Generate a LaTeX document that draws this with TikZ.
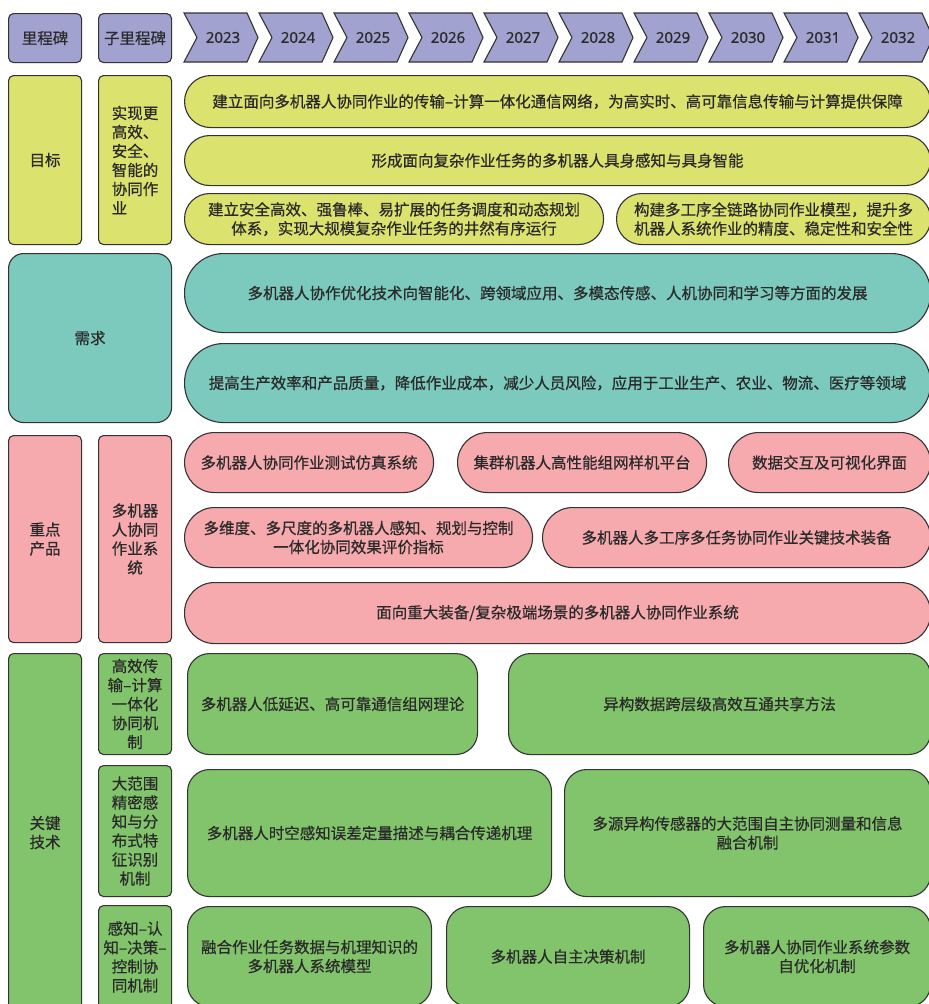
\documentclass[tikz,border=0pt]{standalone}
\usepackage{fontspec}
\newfontfamily\cjkfont[FakeBold=0.6]{Noto Sans CJK SC}
\newfontfamily\yearfont[FakeBold=1.2]{Open Sans}
\definecolor{linec}{HTML}{333333}
\definecolor{textc}{HTML}{2A2A2A}
\definecolor{purp}{HTML}{A2A2D0}
\definecolor{yel}{HTML}{DCE26E}
\definecolor{teal2}{HTML}{7CCABD}
\definecolor{pink2}{HTML}{F6AAAE}
\definecolor{grn}{HTML}{82C46C}
\tikzset{
  base/.style={draw=linec, line width=1.1pt, text=textc, inner sep=0pt, align=center,
    anchor=north west, font=\cjkfont\fontsize{15.5}{19}\selectfont},
  sq/.style={rounded corners=5pt},
  chev/.style={draw=linec, line width=1.1pt, fill=purp},
  yeartext/.style={text=textc, inner sep=0pt, font=\yearfont\fontsize{15}{17}\selectfont},
}
\newcommand{\rb}[7]{\node[base,#1,minimum width={(#5-#3)*1pt},minimum height={(#6-#4)*1pt}] (#2) at (#3,#4) {#7};}
\begin{document}
\begin{tikzpicture}[x=1pt,y=-1pt]
\useasboundingbox (0,0) rectangle (929,1004);
\clip (0,0) rectangle (929,1004);
% header
\rb{sq,fill=purp}{hm}{8}{13}{81}{62}{里程碑}
\rb{sq,fill=purp}{hs}{98}{13}{171}{62}{子里程碑}
\foreach \y [count=\i from 0] in {2023,2024,2025,2026,2027,2028,2029,2030,2031,2032}{
  \pgfmathsetmacro{\xo}{184+75*\i}
  \draw[chev] (\xo,13) -- (\xo+63,13) -- (\xo+74,37.5) -- (\xo+63,62) -- (\xo,62) -- (\xo+13,37.5) -- cycle;
  \node[yeartext] (y\y) at (\xo+39,37.5) {\y};
}
% goals
\rb{sq,fill=yel}{goal}{8}{75}{81}{244}{目标}
\rb{sq,fill=yel,align=left}{goalsub}{98}{75}{171}{244}{实现更\\高效、\\安全、\\智能的\\协同作\\业}
\rb{rounded corners=26pt,fill=yel}{g1}{184}{75}{930}{127}{建立面向多机器人协同作业的传输–计算一体化通信网络，为高实时、高可靠信息传输与计算提供保障}
\rb{rounded corners=25pt,fill=yel}{g2}{184}{135}{930}{185}{形成面向复杂作业任务的多机器人具身感知与具身智能}
\rb{rounded corners=25pt,fill=yel}{g3}{184}{193}{603}{244}{建立安全高效、强鲁棒、易扩展的任务调度和动态规划\\体系，实现大规模复杂作业任务的井然有序运行}
\rb{rounded corners=25pt,fill=yel}{g4}{616}{193}{930}{244}{构建多工序全链路协同作业模型，提升多\\机器人系统作业的精度、稳定性和安全性}
% demand
\rb{rounded corners=15pt,fill=teal2}{need}{8}{253}{171}{422}{需求}
\rb{rounded corners=39pt,fill=teal2}{n1}{184}{253}{930}{332}{多机器人协作优化技术向智能化、跨领域应用、多模态传感、人机协同和学习等方面的发展}
\rb{rounded corners=39pt,fill=teal2}{n2}{184}{343}{930}{422}{提高生产效率和产品质量，降低作业成本，减少人员风险，应用于工业生产、农业、物流、医疗等领域}
% products
\rb{sq,fill=pink2}{prod}{8}{435}{81}{642}{重点\\产品}
\rb{sq,fill=pink2}{prodsub}{98}{435}{171}{642}{多机器\\人协同\\作业系\\统}
\rb{rounded corners=30pt,fill=pink2}{p1}{184}{432}{433}{492}{多机器人协同作业测试仿真系统}
\rb{rounded corners=30pt,fill=pink2}{p2}{457}{432}{706}{492}{集群机器人高性能组网样机平台}
\rb{rounded corners=30pt,fill=pink2}{p3}{728}{432}{930}{492}{数据交互及可视化界面}
\rb{rounded corners=30pt,fill=pink2}{p4}{184}{507}{532}{567}{多维度、多尺度的多机器人感知、规划与控制\\一体化协同效果评价指标}
\rb{rounded corners=30pt,fill=pink2}{p5}{542}{507}{930}{567}{多机器人多工序多任务协同作业关键技术装备}
\rb{rounded corners=30pt,fill=pink2}{p6}{184}{582}{930}{643}{面向重大装备/复杂极端场景的多机器人协同作业系统}
% key tech
\rb{sq,fill=grn}{tech}{8}{653}{81}{1011}{关键\\技术}
\rb{sq,fill=grn}{s1}{98}{653}{171}{754}{高效传\\输–计算\\一体化\\协同机\\制}
\rb{sq,fill=grn}{s2}{98}{765}{171}{896}{大范围\\精密感\\知与分\\布式特\\征识别\\机制}
\rb{sq,fill=grn}{s3}{98}{905}{171}{1008}{感知–认\\知–决策–\\控制协\\同机制}
\rb{rounded corners=22pt,fill=grn}{k1}{187}{653}{477}{754}{多机器人低延迟、高可靠通信组网理论}
\rb{rounded corners=22pt,fill=grn}{k2}{508}{653}{930}{754}{异构数据跨层级高效互通共享方法}
\rb{rounded corners=22pt,fill=grn}{k3}{187}{769}{551}{896}{多机器人时空感知误差定量描述与耦合传递机理}
\rb{rounded corners=22pt,fill=grn}{k4}{564}{769}{930}{896}{多源异构传感器的大范围自主协同测量和信息\\融合机制}
\rb{rounded corners=22pt,fill=grn}{k5}{187}{906}{431}{1006}{融合作业任务数据与机理知识的\\多机器人系统模型}
\rb{rounded corners=22pt,fill=grn}{k6}{446}{906}{689}{1006}{多机器人自主决策机制}
\rb{rounded corners=22pt,fill=grn}{k7}{703}{906}{930}{1006}{多机器人协同作业系统参数\\自优化机制}
\end{tikzpicture}
\end{document}
